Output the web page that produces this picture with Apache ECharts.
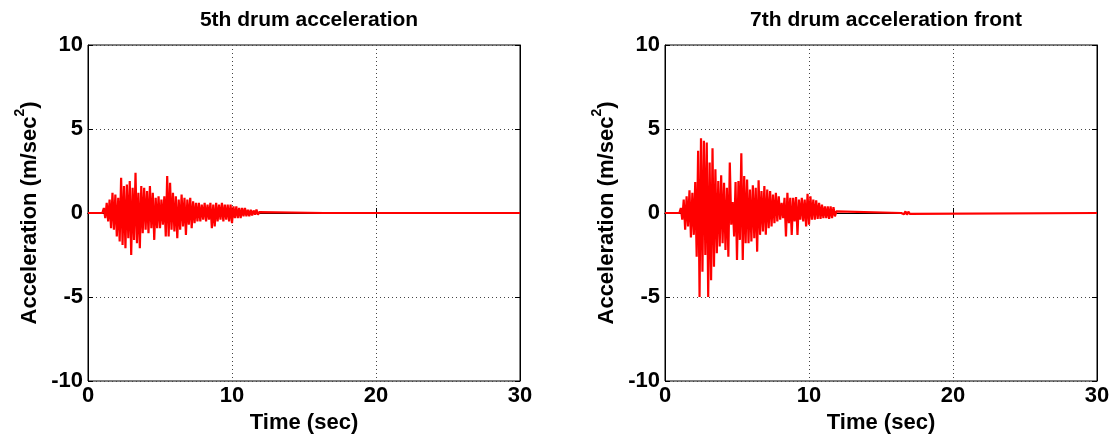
<!DOCTYPE html>
<html><head><meta charset="utf-8">
<script src="https://cdn.jsdelivr.net/npm/echarts@6/dist/echarts.min.js"></script>
<style>html,body{margin:0;padding:0;background:#fff}#c{width:1116px;height:439px}</style>
</head><body><div id="c"></div>
<script>
const titles = ['5th drum acceleration', '7th drum acceleration front'];
const xTicks = [0, 10, 20, 30];
const yTicks = [-10, -5, 0, 5, 10];
const times = [0,
 1.0,1.1,1.2,1.3,1.4,1.5,1.6,1.7,1.8,1.9,
 2.0,2.1,2.2,2.3,2.4,2.5,2.6,2.7,2.8,2.9,
 3.0,3.1,3.2,3.3,3.4,3.5,3.6,3.7,3.8,3.9,
 4.0,4.1,4.2,4.3,4.4,4.5,4.6,4.7,4.8,4.9,
 5.0,5.1,5.2,5.3,5.4,5.5,5.6,5.7,5.8,5.9,
 6.0,6.1,6.2,6.3,6.4,6.5,6.6,6.7,6.8,6.9,
 7.0,7.1,7.2,7.3,7.4,7.5,7.6,7.7,7.8,7.9,
 8.0,8.1,8.2,8.3,8.4,8.5,8.6,8.7,8.8,8.9,
 9.0,9.1,9.2,9.3,9.4,9.5,9.6,9.7,9.8,9.9,
 10.0,10.1,10.2,10.3,10.4,10.5,10.6,10.7,10.8,10.9,
 11.0,11.1,11.2,11.3,11.4,11.5,11.6,11.7,11.8,11.9,
 12.0,
 16.4,16.5,16.6,16.7,16.8,16.9,17.0,17.1,
 30];
const drum5 = [0,
 0,0.3,-0.3,0.6,-0.5,0.8,-0.9,1.2,-1.0,1.1,
 -1.4,0.9,-1.7,2.1,-1.9,1.6,-2.1,1.7,-1.5,1.9,
 -2.5,1.5,-1.6,2.4,-1.8,1.2,-2.1,1.6,-1.2,1.5,
 -1.0,1.3,-1.2,1.6,-0.9,1.2,-1.6,0.9,-0.9,1.0,
 -0.9,0.8,-0.7,1.0,-1.4,2.2,-1.4,1.8,-1.0,1.2,
 -1.1,1.0,-1.5,0.8,-1.0,1.1,-0.8,0.9,-1.3,0.8,
 -0.7,0.9,-0.9,0.7,-0.6,0.6,-0.5,0.6,-0.5,0.5,
 -0.4,0.6,-0.5,0.5,-0.4,0.6,-0.9,0.5,-0.8,0.6,
 -0.5,0.5,-0.4,0.6,-0.5,0.5,-0.4,0.5,-0.5,0.5,
 -0.6,0.4,-0.3,0.4,-0.3,0.3,-0.3,0.3,-0.2,0.3,
 -0.2,0.2,-0.2,0.2,-0.15,0.15,-0.1,0.2,-0.1,0.05,
 0,
 0,0,0,0,0,0,0,0,
 0];
const drum7 = [0,
 0,0.3,-0.4,0.8,-1.0,1.0,-0.8,1.35,-1.45,1.2,
 -1.3,1.85,-2.6,3.7,-5.0,4.45,-3.5,4.3,-2.5,4.2,
 -5.0,3.0,-4.0,3.85,-3.2,2.6,-2.4,1.9,-2.0,2.25,
 -1.8,1.8,-2.2,1.5,-2.6,3.0,-0.7,0.65,-1.4,1.85,
 -2.8,1.9,-1.6,3.55,-2.8,2.2,-1.8,2.0,-1.8,1.4,
 -1.7,1.65,-1.5,1.5,-2.3,1.95,-1.3,1.3,-1.1,1.6,
 -1.3,1.4,-0.9,1.3,-0.8,1.1,-0.6,1.2,-0.5,1.0,
 -0.4,0.6,-0.3,0.9,-1.4,1.2,-0.6,0.9,-1.3,0.9,
 -0.5,0.95,-1.3,0.8,-0.4,0.9,-0.5,0.8,-0.8,1.15,
 -0.7,1.0,-0.4,0.8,-0.4,0.75,-0.35,0.6,-0.35,0.5,
 -0.3,0.4,-0.3,0.4,-0.35,0.4,-0.3,0.35,-0.2,0.1,
 0,
 0,0.08,-0.08,0.1,-0.1,0.08,-0.05,0,
 0];
const seriesValues = [drum5, drum7];

const FONT = 'Liberation Sans, Arial, sans-serif';
const gridLefts = [88, 665];
const chart = echarts.init(document.getElementById('c'), null, {renderer: 'canvas'});
const grids = [], xAxes = [], yAxes = [], series = [], titleOpts = [];
gridLefts.forEach((left, i) => {
  grids.push({left: left, top: 45, width: 432, height: 336, show: true, borderColor: '#000', borderWidth: 1, backgroundColor: '#fff'});
  titleOpts.push({text: titles[i], left: left + 216, top: 5, textAlign: 'center',
    textStyle: {fontFamily: FONT, fontWeight: 'bold', fontSize: 21, color: '#000'}});
  const xBase = {gridIndex: i, type: 'value', min: xTicks[0], max: xTicks[xTicks.length-1], interval: 10,
    axisLine: {show: true, lineStyle: {color: '#000', width: 1}},
    axisTick: {show: true, inside: true, length: 5, lineStyle: {color: '#000'}}};
  xAxes.push(Object.assign({}, xBase, {position: 'bottom',
    name: 'Time (sec)', nameLocation: 'middle', nameGap: 30,
    nameTextStyle: {fontFamily: FONT, fontWeight: 'bold', fontSize: 22, color: '#000'},
    axisLabel: {fontFamily: FONT, fontWeight: 'bold', fontSize: 22, color: '#000', margin: 4},
    splitLine: {show: true, lineStyle: {color: '#444', type: [1, 3], width: 1}}}));
  xAxes.push(Object.assign({}, xBase, {position: 'top', axisLabel: {show: false}, splitLine: {show: false}}));
  const yBase = {gridIndex: i, type: 'value', min: yTicks[0], max: yTicks[yTicks.length-1], interval: 5,
    axisLine: {show: true, onZero: false, lineStyle: {color: '#000', width: 1}},
    axisTick: {show: true, inside: true, length: 5, lineStyle: {color: '#000'}}};
  yAxes.push(Object.assign({}, yBase, {position: 'left',
    name: '{a|Acceleration (m/sec}{s|2}{a|)}', nameLocation: 'middle', nameRotate: 90, nameGap: 47,
    nameTextStyle: {rich: {
      a: {fontFamily: FONT, fontWeight: 'bold', fontSize: 22, color: '#000', lineHeight: 28, verticalAlign: 'bottom'},
      s: {fontFamily: FONT, fontWeight: 'bold', fontSize: 14, color: '#000', lineHeight: 28, verticalAlign: 'top'}}},
    axisLabel: {fontFamily: FONT, fontWeight: 'bold', fontSize: 22, color: '#000', margin: 5},
    splitLine: {show: true, lineStyle: {color: '#444', type: [1, 3], width: 1}}}));
  yAxes.push(Object.assign({}, yBase, {position: 'right', axisLabel: {show: false}, splitLine: {show: false}}));
  series.push({type: 'line', xAxisIndex: i * 2, yAxisIndex: i * 2, showSymbol: false, symbol: 'none',
    lineStyle: {color: '#ff0000', width: 2.2}, z: 5,
    data: times.map((t, k) => [t, seriesValues[i][k]])});
});
chart.setOption({animation: false, backgroundColor: '#fff', title: titleOpts, grid: grids,
  xAxis: xAxes, yAxis: yAxes, series: series});
</script></body></html>
